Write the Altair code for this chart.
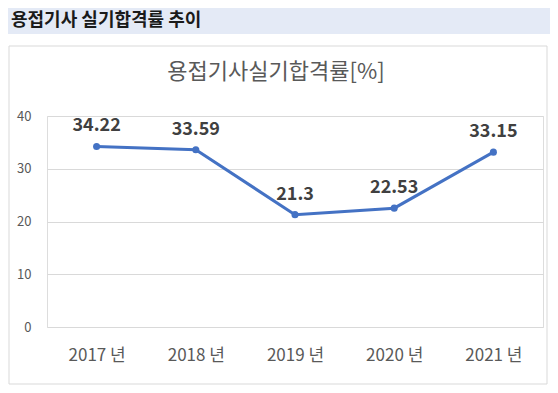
import altair as alt
import pandas as pd

years = ["2017 년", "2018 년", "2019 년", "2020 년", "2021 년"]
rates = [34.22, 33.59, 21.3, 22.53, 33.15]
header_text = "용접기사 실기합격률 추이"
chart_title = "용접기사실기합격률[%]"
y_ticks = [0, 10, 20, 30, 40]

df = pd.DataFrame({"year": years, "rate": rates})
df["label"] = [f"{v:g}" for v in rates]

FONT = "Noto Sans CJK KR"
W, H = 496, 211

base = alt.Chart(df).encode(
    x=alt.X("year:N", sort=years,
            scale=alt.Scale(type="point", padding=0.5),
            axis=alt.Axis(title=None, labelAngle=0, domain=False, ticks=False,
                          labelFont=FONT, labelFontSize=17, labelColor="#595959",
                          labelPadding=20, grid=False)),
    y=alt.Y("rate:Q", scale=alt.Scale(domain=[0, 40], nice=False),
            axis=alt.Axis(title=None, values=y_ticks, domain=False, ticks=False,
                          labelFont=FONT, labelFontSize=13, labelColor="#595959",
                          labelPadding=16, gridColor="#D9D9D9", gridWidth=1)),
)

line = base.mark_line(color="#4472C4", strokeWidth=3)
pts = base.mark_point(filled=True, color="#4472C4", size=50, opacity=1)
labels = base.mark_text(baseline="alphabetic", dy=-15, font=FONT, fontSize=18,
                        fontWeight="bold", color="#404040").encode(text="label:N")

deco = alt.Chart(pd.DataFrame({"t": [header_text], "c": [chart_title]}))
header_bg = deco.mark_rect(color="#E4EAF6").encode(
    x=alt.value(-39), x2=alt.value(503), y=alt.value(-108), y2=alt.value(-82))
border = deco.mark_rect(fill=None, stroke="#D9D9D9", strokeWidth=1).encode(
    x=alt.value(-38), x2=alt.value(500), y=alt.value(-70), y2=alt.value(268))
header = deco.mark_text(align="left", baseline="middle", font=FONT, fontSize=18,
                        fontWeight="bold", color="#1a1a1a").encode(
    x=alt.value(-36), y=alt.value(-95), text="t:N")
title = deco.mark_text(align="center", baseline="middle", font=FONT, fontSize=22,
                       color="#595959").encode(
    x=alt.value(229), y=alt.value(-44), text="c:N")

chart = alt.layer(header_bg, border, header, title, line, pts, labels).properties(
    width=W, height=H,
    autosize=alt.AutoSizeParams(type="none"),
    padding={"left": 39, "top": 108, "right": 7, "bottom": 58},
).configure_view(stroke=None).configure(background="white")

chart.save("out.html", embed_options={"renderer": "svg", "actions": False})
